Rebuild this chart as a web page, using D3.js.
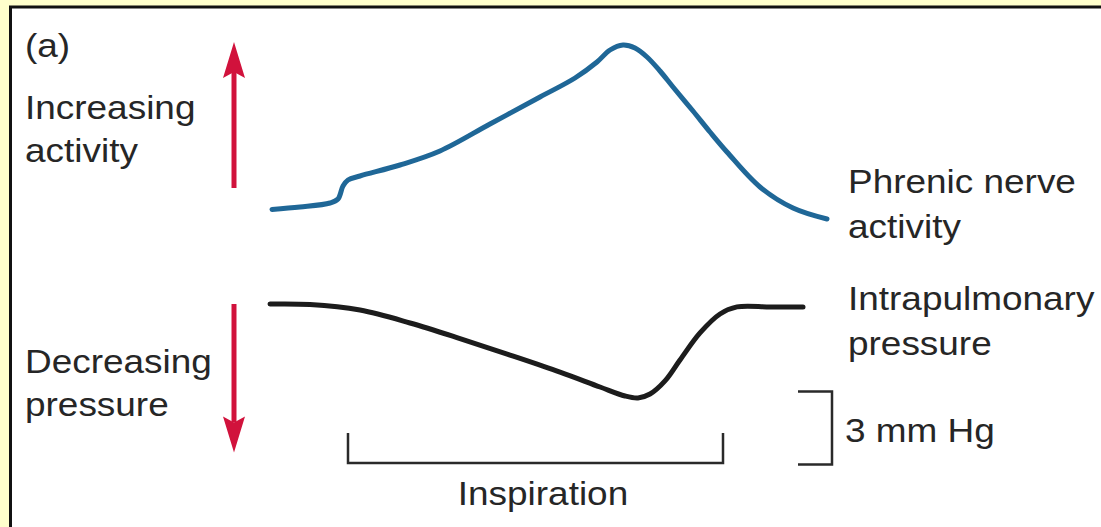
<!DOCTYPE html>
<html>
<head>
<meta charset="utf-8">
<script src="https://cdn.jsdelivr.net/npm/d3@7"></script>
<style>
  body { margin: 0; background: #ffffcc; }
  svg { display: block; }
  text { font-family: "Liberation Sans", Arial, sans-serif; fill: #262626; }
</style>
</head>
<body>
<div id="root"></div>
<script>
// time axis in arbitrary units (10 px each), activity in arbitrary units, pressure in mm Hg
const nerveTime = [0.2, 3.0, 6.0, 6.8, 7.3, 7.8, 9.0, 13.0, 17.0, 22.0, 27.0, 30.5, 32.7, 34.0, 35.3, 36.5, 37.7, 39.0, 40.3, 42.3, 44.0, 45.7, 49.0, 52.3, 55.7];
const nerveActivity = [5.3, 6.5, 8.5, 10.5, 17, 20, 22, 27.5, 34.5, 48, 61.5, 71, 79, 85, 87.5, 86, 81.5, 74.5, 66.5, 54.5, 44, 34, 16.5, 6, 0.5];

const pressureTime = [0, 4, 9, 14, 19, 24, 29, 33, 35.5, 36.8, 38, 39.5, 41, 43, 45, 46.7, 50, 53.3];
const pressureValue = [0.0, -0.02, -0.25, -0.78, -1.42, -2.1, -2.8, -3.41, -3.78, -3.86, -3.7, -3.16, -2.3, -1.19, -0.41, -0.12, -0.12, -0.12];

const inspiration = [7.8, 45.3];
const scaleBar = [-3.6, -6.6]; // 3 mm Hg
const activityArrow = [16, 89];
const pressureArrow = [0, -6.1];

const leftLabels = [["(a)", 57], ["Increasing", 119], ["activity", 162], ["Decreasing", 373], ["pressure", 416]];
const rightLabels = [["Phrenic nerve", 193], ["activity", 238], ["Intrapulmonary", 310], ["pressure", 355]];

const outerWidth = 1101;
const outerHeight = 527;

const x = d3.scaleLinear().domain([0, 56]).range([270, 830]);
const yAct = d3.scaleLinear().domain([0, 90]).range([220, 40]);
const yPres = d3.scaleLinear().domain([0, -6]).range([304, 450]);

const svg = d3.select("#root")
    .append("svg")
    .attr("width", outerWidth)
    .attr("height", outerHeight);

svg.append("rect")
    .attr("x", 10.5).attr("y", 7)
    .attr("width", 1200).attr("height", 600)
    .attr("fill", "#fff")
    .attr("stroke", "#111")
    .attr("stroke-width", 3);

let line = d3.line().curve(d3.curveCatmullRom.alpha(0.5));

svg.append("path")
    .attr("d", line(nerveTime.map((t, i) => [x(t), yAct(nerveActivity[i])])))
    .attr("fill", "none")
    .attr("stroke", "#1f6797")
    .attr("stroke-width", 5)
    .attr("stroke-linecap", "round");

svg.append("path")
    .attr("d", line(pressureTime.map((t, i) => [x(t), yPres(pressureValue[i])])))
    .attr("fill", "none")
    .attr("stroke", "#1c1c1c")
    .attr("stroke-width", 5)
    .attr("stroke-linecap", "round");

// red arrows
function arrow(ax, y0, y1) {
    const dir = y1 < y0 ? 1 : -1;
    const headLen = 36, halfW = 11, notch = 6;
    const base = y1 + dir * headLen;
    svg.append("line")
        .attr("x1", ax).attr("x2", ax)
        .attr("y1", y0).attr("y2", base - dir * notch)
        .attr("stroke", "#d1123c")
        .attr("stroke-width", 5);
    svg.append("path")
        .attr("d", `M${ax},${y1}L${ax - halfW},${base}L${ax},${base - dir * notch}L${ax + halfW},${base}Z`)
        .attr("fill", "#d1123c");
}
arrow(234, yAct(activityArrow[0]), yAct(activityArrow[1]));
arrow(234, yPres(pressureArrow[0]), yPres(pressureArrow[1]));

// inspiration bracket
svg.append("path")
    .attr("d", `M${x(inspiration[0])},433V463H${x(inspiration[1])}V433`)
    .attr("fill", "none")
    .attr("stroke", "#2a2a2a")
    .attr("stroke-width", 2.5);

// 3 mm Hg bracket
svg.append("path")
    .attr("d", `M798,${yPres(scaleBar[0])}H832V${yPres(scaleBar[1])}H798`)
    .attr("fill", "none")
    .attr("stroke", "#2a2a2a")
    .attr("stroke-width", 2.5);

function label(txt, lx, ly, anchor) {
    svg.append("text")
        .attr("transform", `translate(${lx},${ly}) scale(1.12,1)`)
        .attr("text-anchor", anchor || "start")
        .style("font-size", "33px")
        .text(txt);
}

leftLabels.forEach(d => label(d[0], 25, d[1]));
rightLabels.forEach(d => label(d[0], 848, d[1]));
label("3 mm Hg", 845, 442);
label("Inspiration", 543, 505, "middle");
</script>
</body>
</html>
